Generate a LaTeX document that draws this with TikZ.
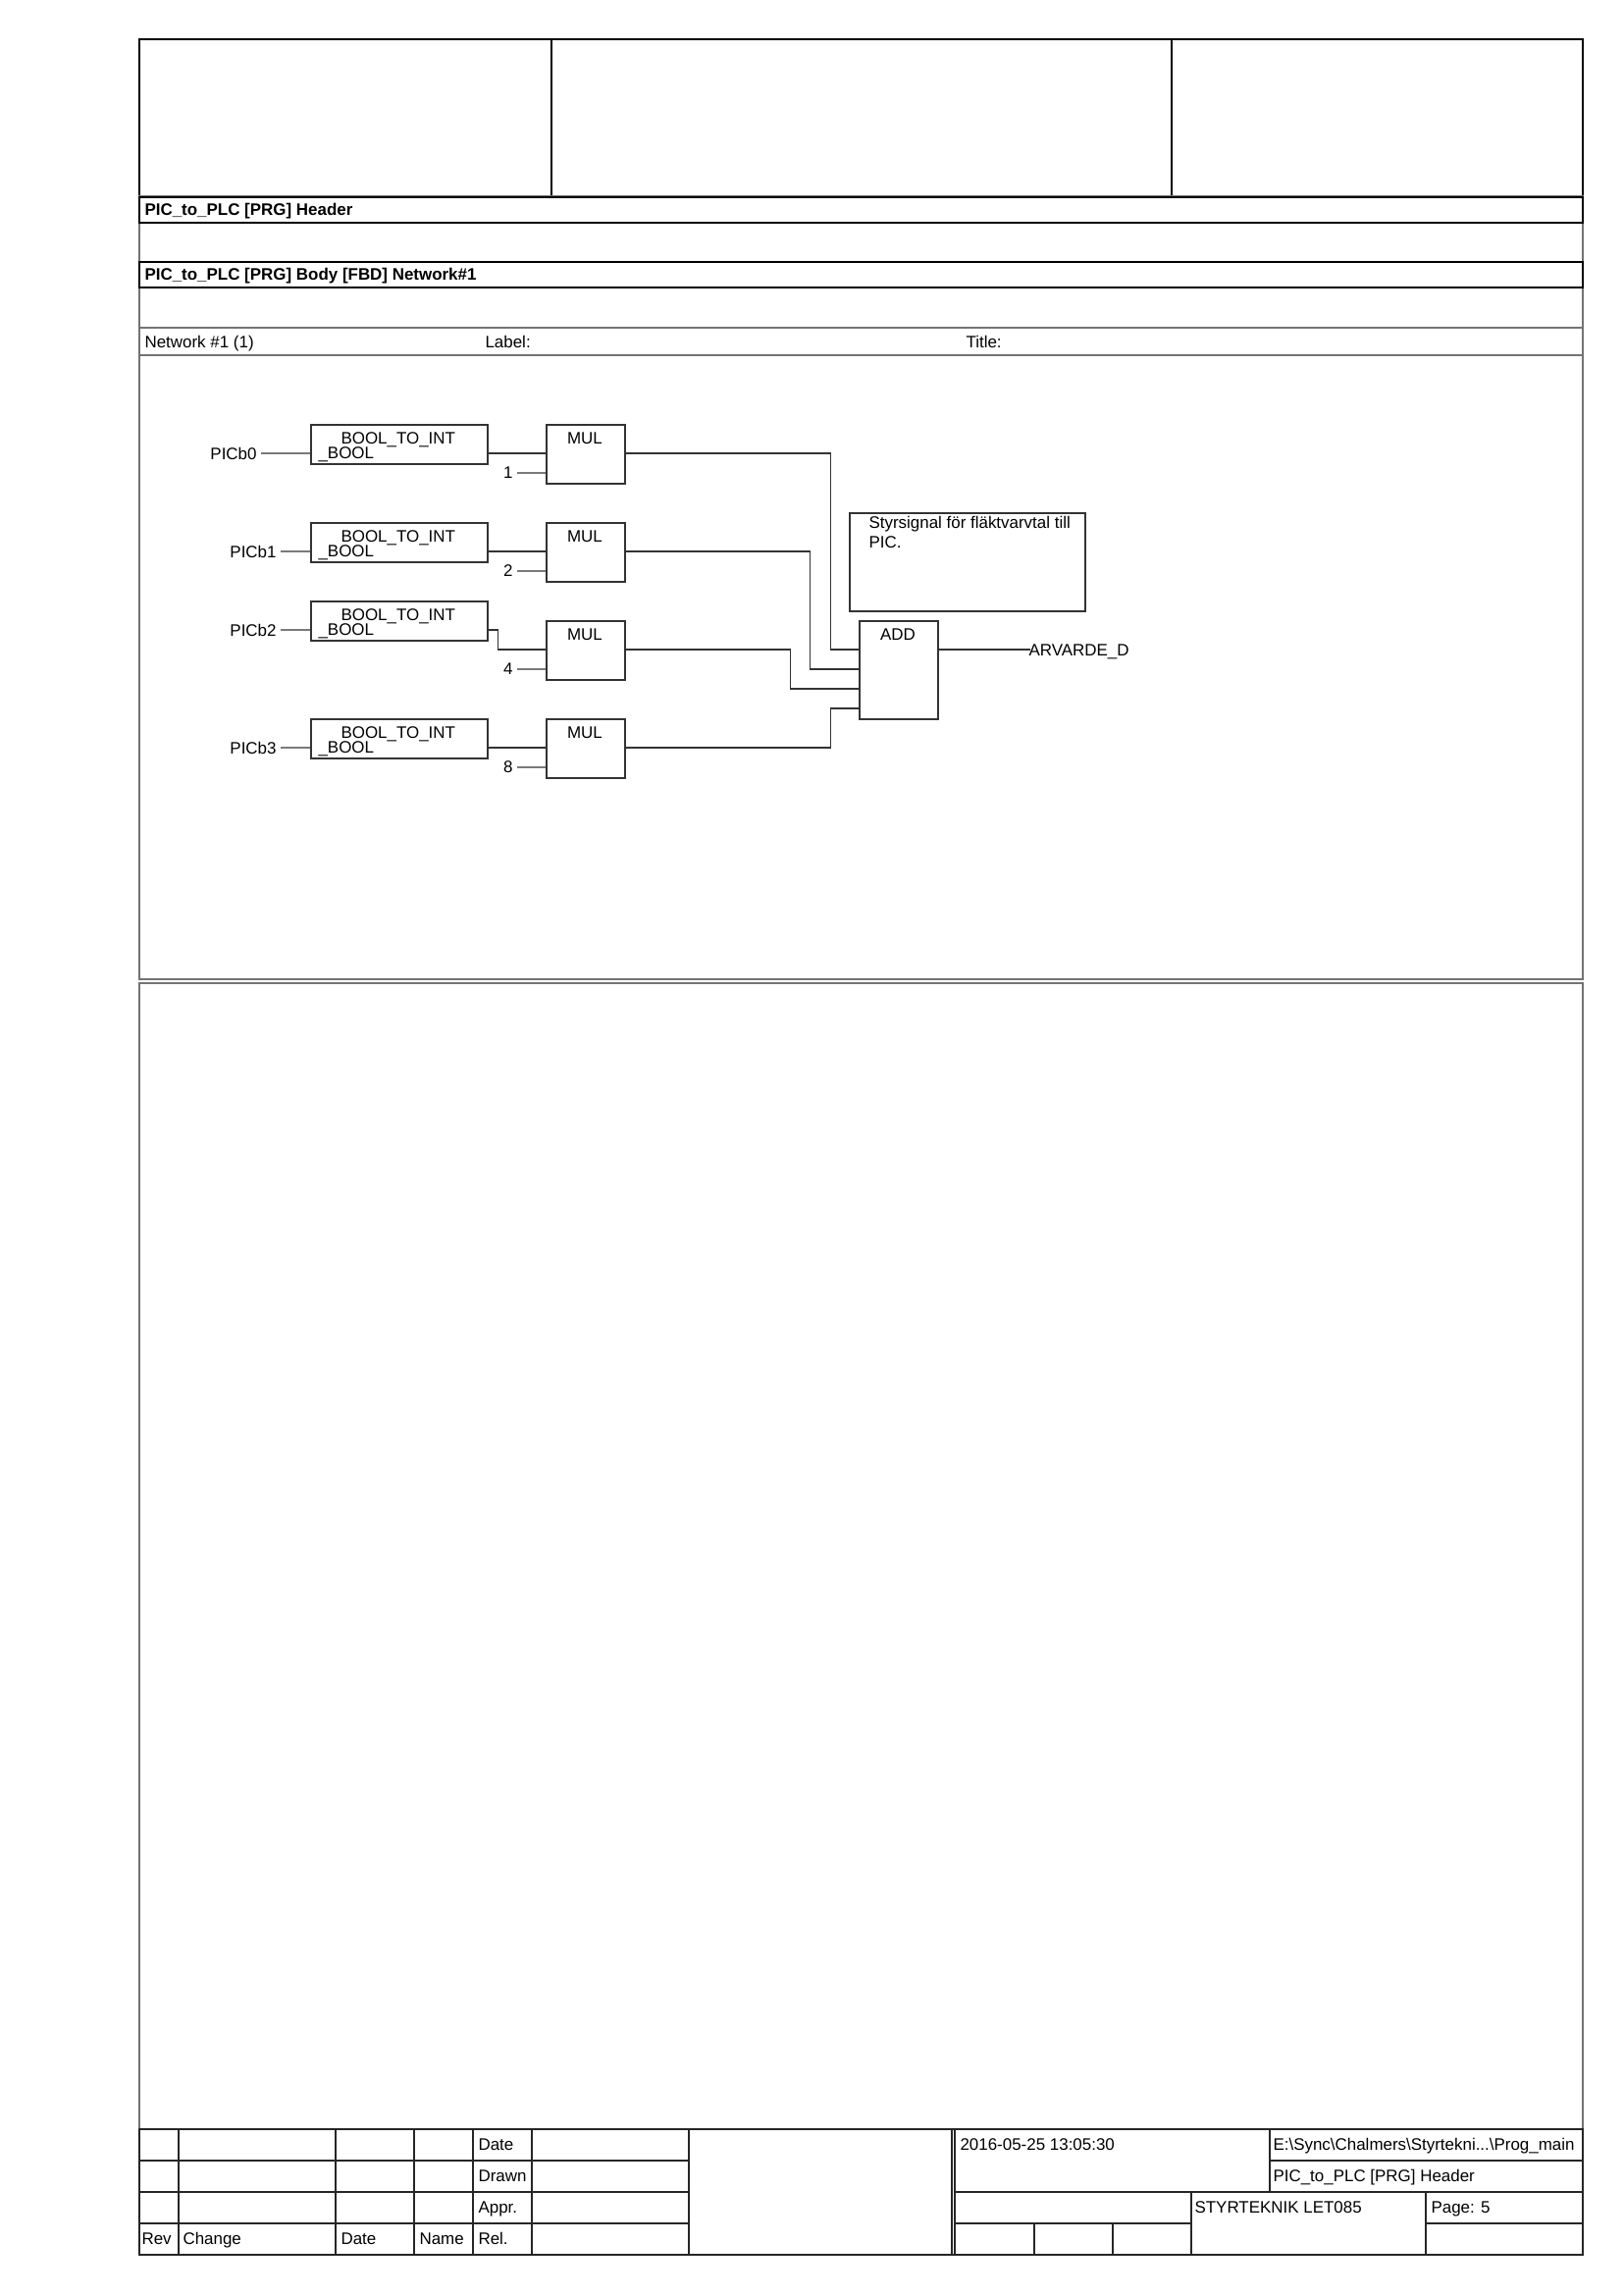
\documentclass[tikz,border=0pt]{standalone}
\usepackage{fontspec}
\setmainfont{Liberation Sans}

\begin{document}
\begin{tikzpicture}[x=0.36pt,y=-0.36pt,
    font=\fontsize{6.1pt}{7.4pt}\selectfont,
    frame/.style={black,line width=0.6pt},
    bar/.style={draw=black,fill=white,line width=0.9pt},
    net/.style={black!55,line width=0.55pt},
    tab/.style={black!85,line width=0.7pt},
    txt/.style={inner sep=0pt,anchor=base west},
    pin/.style={inner sep=0pt,outer sep=1.6pt},
    fb/.style={draw=black!80,line width=0.55pt,inner sep=0pt,anchor=north west},
    boolfb/.style={fb,minimum width=64.8pt,minimum height=14.4pt},
    mulfb/.style={fb,minimum width=28.8pt,minimum height=21.6pt},
    addfb/.style={fb,minimum width=28.8pt,minimum height=36pt},
    notefb/.style={fb,minimum width=86.4pt,minimum height=36pt},
    wire/.style={black!80,line width=0.4pt}]
		\useasboundingbox (0,0) rectangle (1654,2339);

		% page frame and header
		\draw[frame] (142,40) rectangle (1613,200);
		\draw[frame] (562,40) -- (562,200) (1194,40) -- (1194,200);
		\draw[net] (142,200) rectangle (1613,998);
		\draw[net] (142,334) -- (1613,334) (142,362) -- (1613,362);
		\draw[bar] (142,201) rectangle (1613,227);
		\draw[bar] (142,267) rectangle (1613,293);
		\node[txt] (hdr) at (147,219) {\bfseries PIC\_to\_PLC [PRG] Header};
		\node[txt] (body) at (147,285) {\bfseries PIC\_to\_PLC [PRG] Body [FBD] Network\#1};
		\node[txt] (netw) at (147,354) {Network \#1 (1)};
		\node[txt] (lbl) at (494,354) {Label:};
		\node[txt] (ttl) at (984,354) {Title:};
		\draw[net] (142,1002) rectangle (1613,2170);

		% network
		\node[addfb] (add) at (875,632) {};
		\node[txt,anchor=base] (addn) at (915,652) {ADD};
		\node[txt] (out) at (1048,668) {ARVARDE\_D};
		\draw[wire] ([yshift=-10.8pt]add.north east) -- ++(93,0);

		\foreach \i/\bt/\mt/\lx/\k/\jx in {0/432/432/266/1/209, 1/532/532/286/2/188, 2/612/632/286/4/168, 3/732/732/286/8/209}{
			\node[boolfb] (b\i) at (316,\bt) {};
			\node[txt] (bn\i) at (347,{\bt+20}) {BOOL\_TO\_INT};
			\node[txt] (bs\i) at (324,{\bt+35}) {\_BOOL};
			\node[mulfb] (m\i) at (556,\mt) {};
			\node[txt,anchor=base] (mn\i) at (596,{\mt+20}) {MUL};
			\node[pin,anchor=east] (l\i) at (\lx,{\bt+30}) {PICb\i};
			\node[pin,anchor=east] (k\i) at (527,{\mt+50}) {\k};
			\draw[wire] (l\i.east) -- ([yshift=-10.8pt]b\i.north west);
			\draw[wire] ([yshift=-10.8pt]b\i.north east) -- ++(10,0) |- ([yshift=-10.8pt]m\i.north west);
			\draw[wire] (k\i.east) -- ([yshift=-18pt]m\i.north west);
			\draw[wire] ([yshift=-10.8pt]m\i.north east) -- ++(\jx,0) |- ([yshift={-10.8pt-7.2pt*\i}]add.north west);
		}

		\node[notefb] (note) at (865,522) {};
		\node[txt] (n1) at (885,538) {Styrsignal för fläktvarvtal till};
		\node[txt] (n2) at (885,558) {PIC.};

		% title block
		\draw[tab] (142,2170) rectangle (1613,2298);
		\foreach \x in {182,342,422,482,542,702,970,973}
			\draw[tab] (\x,2170) -- (\x,2298);
		\foreach \y in {2202,2234,2266}
			\draw[tab] (142,\y) -- (702,\y);
		\draw[tab] (973,2234) -- (1613,2234);
		\draw[tab] (1294,2202) -- (1613,2202) (1294,2170) -- (1294,2234);
		\draw[tab] (1214,2234) -- (1214,2298) (1453,2234) -- (1453,2298);
		\draw[tab] (973,2266) -- (1214,2266) (1453,2266) -- (1613,2266);
		\draw[tab] (1054,2266) -- (1054,2298) (1134,2266) -- (1134,2298);

		\foreach \t/\x/\y [count=\n] in {Date/487/2191, Drawn/487/2223, Appr./487/2255, Rev/144/2287, Change/186/2287, Date/347/2287, Name/427/2287, Rel./487/2287, 2016-05-25 13:05:30/978/2191, STYRTEKNIK LET085/1217/2255, Page: 5/1458/2255}
			\node[txt] (t\n) at (\x,\y) {\t};
		\node[txt] (path) at (1297,2191) {E:\textbackslash{}Sync\textbackslash{}Chalmers\textbackslash{}Styrtekni...\textbackslash{}Prog\_main};
		\node[txt] (prg) at (1297,2223) {PIC\_to\_PLC [PRG] Header};
	\end{tikzpicture}
\end{document}
